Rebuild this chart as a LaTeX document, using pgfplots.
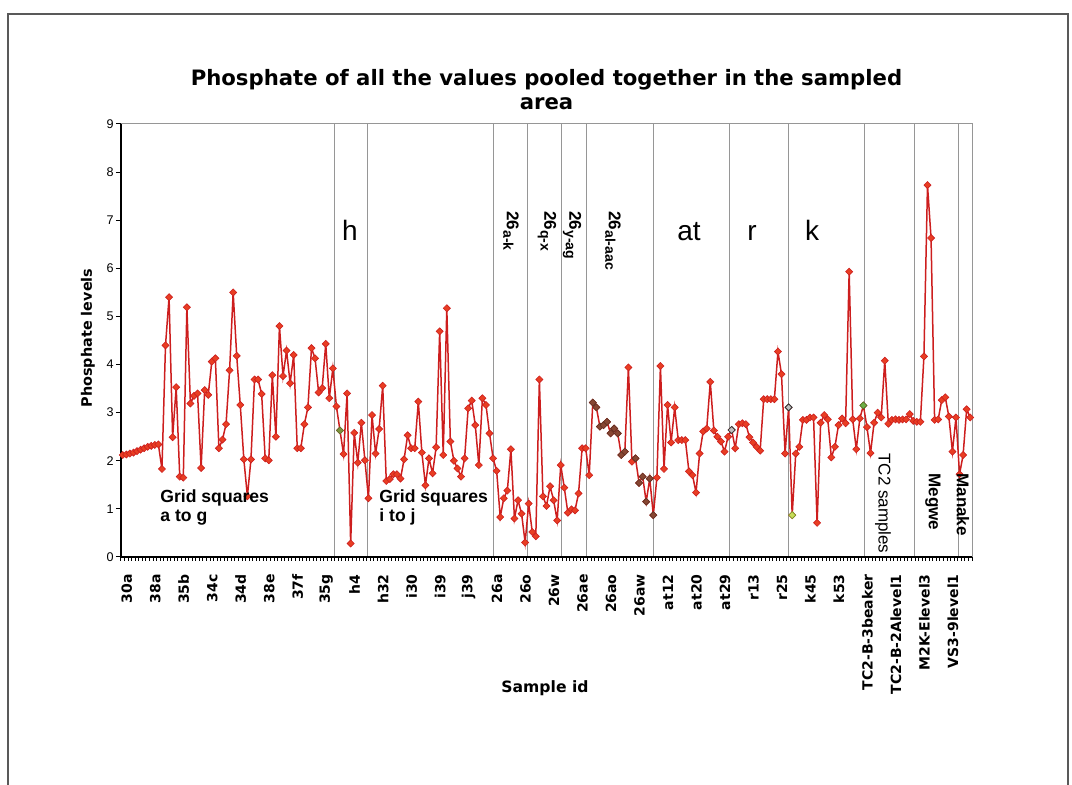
\documentclass[border=0pt]{standalone}
\usepackage{fontspec}
\setmainfont{DejaVu Sans}
\newfontfamily\arial{Liberation Sans}
\usepackage{pgfplots}
\usepackage{pgfplotstable}
\pgfplotsset{compat=1.18}
\definecolor{lred}{RGB}{205,30,30}
\definecolor{mred}{RGB}{232,62,35}
\definecolor{sep}{RGB}{150,150,150}
\definecolor{brn}{RGB}{135,70,50}
\pgfplotstableread{
i v
0 2.12
1 2.13
2 2.15
3 2.17
4 2.20
5 2.23
6 2.26
7 2.29
8 2.31
9 2.33
10 2.34
11 1.83
12 4.40
13 5.40
14 2.49
15 3.53
16 1.67
17 1.65
18 5.19
19 3.19
20 3.35
21 3.40
22 1.85
23 3.47
24 3.37
25 4.06
26 4.13
27 2.26
28 2.44
29 2.76
30 3.88
31 5.50
32 4.18
33 3.16
34 2.03
35 1.26
36 2.03
37 3.69
38 3.69
39 3.39
40 2.05
41 2.01
42 3.78
43 2.50
44 4.80
45 3.76
46 4.29
47 3.61
48 4.20
49 2.26
50 2.26
51 2.76
52 3.11
53 4.34
54 4.13
55 3.42
56 3.51
57 4.43
58 3.30
59 3.92
60 3.13
61 2.63
62 2.14
63 3.40
64 0.28
65 2.58
66 1.96
67 2.79
68 2.01
69 1.22
70 2.95
71 2.15
72 2.66
73 3.56
74 1.58
75 1.62
76 1.72
77 1.72
78 1.63
79 2.03
80 2.53
81 2.26
82 2.26
83 3.23
84 2.17
85 1.49
86 2.05
87 1.74
88 2.28
89 4.69
90 2.12
91 5.17
92 2.40
93 2.00
94 1.84
95 1.67
96 2.05
97 3.09
98 3.25
99 2.74
100 1.91
101 3.30
102 3.16
103 2.57
104 2.05
105 1.79
106 0.83
107 1.22
108 1.38
109 2.24
110 0.80
111 1.18
112 0.90
113 0.30
114 1.11
115 0.52
116 0.43
117 3.69
118 1.26
119 1.06
120 1.47
121 1.18
122 0.76
123 1.91
124 1.44
125 0.92
126 0.99
127 0.97
128 1.32
129 2.26
130 2.26
131 1.70
132 3.21
133 3.11
134 2.71
135 2.74
136 2.81
137 2.57
138 2.67
139 2.57
140 2.12
141 2.19
142 3.94
143 1.98
144 2.05
145 1.54
146 1.67
147 1.15
148 1.63
149 0.87
150 1.65
151 3.97
152 1.83
153 3.16
154 2.38
155 3.11
156 2.43
157 2.43
158 2.43
159 1.78
160 1.70
161 1.34
162 2.15
163 2.61
164 2.67
165 3.64
166 2.63
167 2.50
168 2.40
169 2.19
170 2.50
171 2.64
172 2.26
173 2.76
174 2.78
175 2.76
176 2.49
177 2.38
178 2.29
179 2.21
180 3.28
181 3.28
182 3.28
183 3.28
184 4.27
185 3.80
186 2.15
187 3.11
188 0.87
189 2.15
190 2.29
191 2.85
192 2.85
193 2.90
194 2.90
195 0.71
196 2.79
197 2.95
198 2.86
199 2.07
200 2.29
201 2.74
202 2.88
203 2.78
204 5.93
205 2.86
206 2.24
207 2.88
208 3.15
209 2.70
210 2.16
211 2.79
212 3.00
213 2.90
214 4.08
215 2.77
216 2.85
217 2.86
218 2.85
219 2.86
220 2.86
221 2.97
222 2.83
223 2.81
224 2.81
225 4.17
226 7.73
227 6.63
228 2.85
229 2.86
230 3.26
231 3.32
232 2.92
233 2.19
234 2.90
235 1.72
236 2.12
237 3.07
238 2.90
}\phos
\begin{document}
\begin{tikzpicture}
\begin{axis}[
  at={(0,0)}, anchor=south west,
  scale only axis, width=425.5pt, height=216.5pt,
  xmin=-0.5, xmax=238.5, ymin=0, ymax=9,
  ytick={0,...,9},
  xtick={0,8,...,232},
  xticklabels={30a,38a,35b,34c,34d,38e,37f,35g,h4,h32,i30,i39,j39,26a,26o,26w,26ae,26ao,26aw,at12,at20,at29,r13,r25,k45,k53,TC2-B-3beaker,TC2-B-2Alevel1,M2K-Elevel3,VS3-9level1},
  minor xtick={-0.5,0.5,...,238.5},
  tick pos=left, tick align=outside,
  major tick length=2.5pt, minor tick length=2pt,
  major x tick style={draw=none},
  tick style={black, line width=0.5pt},
  axis line style={draw=none},
  xticklabel style={xshift=2pt, rotate=90, anchor=east, inner sep=0pt, font=\bfseries\fontsize{7}{7}\selectfont},
  xticklabel shift=6pt,
  yticklabel style={font=\arial\fontsize{6.3}{7}\selectfont, inner sep=1pt},
  /pgf/number format/assume math mode=true,
  clip=false,
]
\pgfplotsinvokeforeach{59.4,68.8,104.0,113.7,123.3,130.1,149.0,170.3,187.0,208.2,222.3,234.6}{
  \draw[sep, line width=0.5pt] (axis cs:#1,0) -- (axis cs:#1,9);
}
\draw[sep, line width=0.5pt] (rel axis cs:0,1) -- (rel axis cs:1,1) -- (rel axis cs:1,0);
\draw[black, line width=0.6pt] (rel axis cs:0,1) -- (rel axis cs:0,0) -- (rel axis cs:1,0);
\addplot[color=lred, line width=0.75pt, mark=square*, mark size=1.25pt,
  mark options={rotate=45, fill=mred, draw=lred, line width=0.3pt}] table[x=i,y=v] {\phos};
\addplot[only marks, mark=square*, mark size=1.25pt,
  mark options={rotate=45, fill=brn, draw=brn!70!black, line width=0.3pt}]
  coordinates {(132,3.21)(133,3.11)(134,2.71)(135,2.74)(136,2.81)(137,2.57)(138,2.67)(139,2.57)(140,2.12)(141,2.19)(144,2.05)(145,1.54)(146,1.67)(147,1.15)(148,1.63)(149,0.87)};
\addplot[only marks, mark=square*, mark size=1.25pt,
  mark options={rotate=45, fill=gray!50, draw=black!80, line width=0.4pt}]
  coordinates {(171,2.64)(187,3.11)};
\addplot[only marks, mark=square*, mark size=1.25pt,
  mark options={rotate=45, fill={rgb,255:red,125;green,145;blue,60}, draw={rgb,255:red,90;green,110;blue,40}, line width=0.3pt}]
  coordinates {(61,2.63)};
\addplot[only marks, mark=square*, mark size=1.25pt,
  mark options={rotate=45, fill={rgb,255:red,200;green,220;blue,90}, draw={rgb,255:red,120;green,150;blue,40}, line width=0.3pt}]
  coordinates {(188,0.87)};
\addplot[only marks, mark=square*, mark size=1.25pt,
  mark options={rotate=45, fill={rgb,255:red,110;green,175;blue,70}, draw={rgb,255:red,70;green,120;blue,40}, line width=0.3pt}]
  coordinates {(208,3.15)};
\end{axis}
% title and axis titles
\node[font=\bfseries\fontsize{10.6}{12}\selectfont, anchor=base] at (212.75pt,235.5pt) {Phosphate of all the values pooled together in the sampled};
\node[font=\bfseries\fontsize{10.6}{12}\selectfont, anchor=base] at (212.75pt,223.5pt) {area};
\node[rotate=90, font=\bfseries\fontsize{7.2}{8}\selectfont] at (-16.5pt,109.5pt) {Phosphate levels};
\node[font=\bfseries\fontsize{7.8}{9}\selectfont] at (212pt,-65.5pt) {Sample id};
% region labels
\begin{scope}[every node/.style={font=\arial\fontsize{14}{16}\selectfont, anchor=base, inner sep=0pt}]
\node at (114.5pt,158pt) {h};
\node at (284pt,158pt) {at};
\node at (315.5pt,158pt) {r};
\node at (345.5pt,158pt) {k};
\end{scope}
\begin{scope}[every node/.style={font=\arial\bfseries\fontsize{8.5}{9}\selectfont, anchor=west, rotate=-90, inner sep=0pt}]
\node at (195pt,173pt) {26\raisebox{-0.4ex}{\fontsize{7}{7}\selectfont a-k}};
\node at (213pt,173pt) {26\raisebox{-0.4ex}{\fontsize{7}{7}\selectfont q-x}};
\node at (225.5pt,173pt) {26\raisebox{-0.4ex}{\fontsize{7}{7}\selectfont y-ag}};
\node at (246pt,173pt) {26\raisebox{-0.4ex}{\fontsize{7}{7}\selectfont al-aac}};
\end{scope}
\node[font=\arial\bfseries\fontsize{8.8}{9.6}\selectfont, anchor=base west, align=left, inner sep=0pt] at (19.5pt,17.6pt) {Grid squares\\a to g};
\node[font=\arial\bfseries\fontsize{8.8}{9.6}\selectfont, anchor=base west, align=left, inner sep=0pt] at (129pt,17.6pt) {Grid squares\\i to j};
\node[font=\arial\fontsize{8.5}{9}\selectfont, anchor=west, rotate=-90, inner sep=0pt] at (381pt,52pt) {TC2 samples};
\node[font=\arial\bfseries\fontsize{8.5}{9}\selectfont, anchor=west, rotate=-90, inner sep=0pt] at (406pt,42pt) {Megwe};
\node[font=\arial\bfseries\fontsize{8.5}{9}\selectfont, anchor=west, rotate=-90, inner sep=0pt] at (421pt,42pt) {Manake};
% page frame
\draw[black!65, line width=0.6pt] (-56.5pt,-114pt) -- (-56.5pt,271.5pt) -- (473.5pt,271.5pt) -- (473.5pt,-114pt);
\pgfresetboundingbox
\path (-60.5pt,-114pt) rectangle (475.5pt,278.5pt);
\end{tikzpicture}
\end{document}
